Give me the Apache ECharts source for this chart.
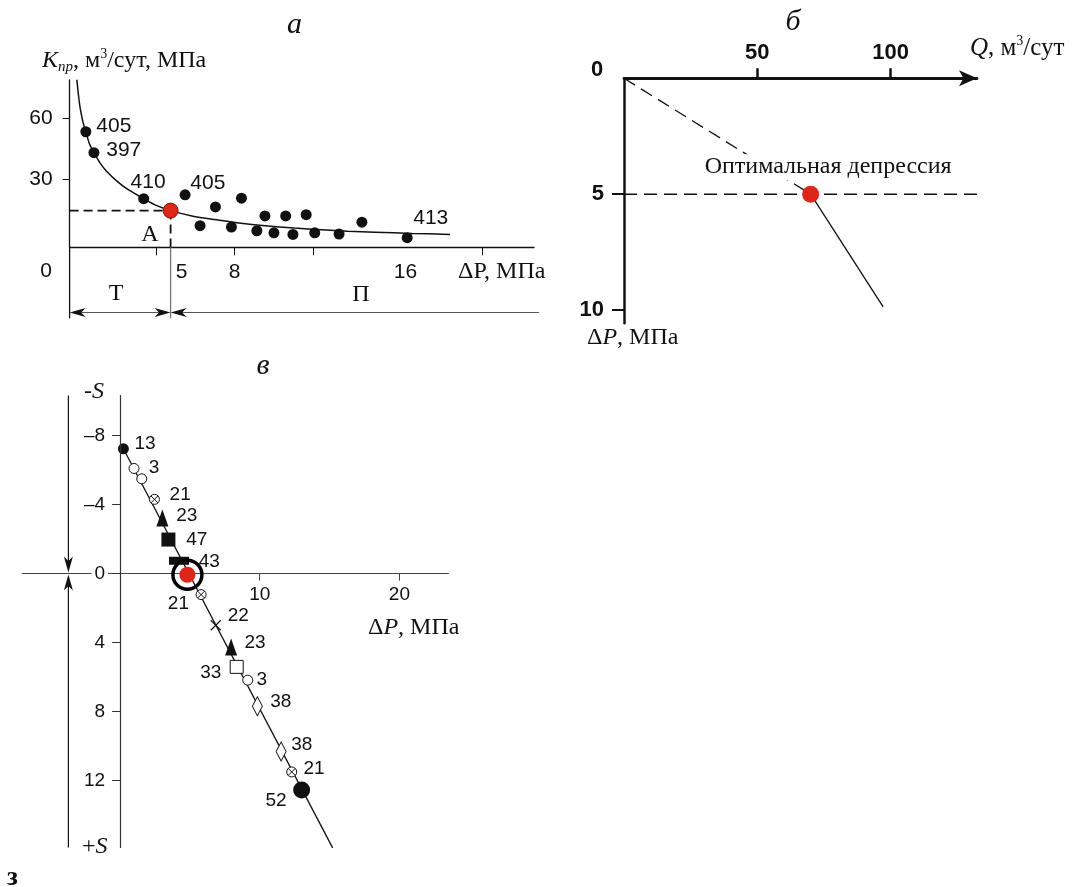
<!DOCTYPE html>
<html><head><meta charset="utf-8">
<script src="https://cdn.jsdelivr.net/npm/echarts@6/dist/echarts.min.js"></script>
<style>html,body{margin:0;padding:0;background:#fff}#c{width:1078px;height:887px}</style>
</head><body><div id="c"></div>
<script>
// ---------- Panel а : K_пр vs ΔP ----------
const aCurveX = [0.61, 0.7, 0.78, 0.9, 1.03, 1.2, 1.41, 1.7, 2.0, 2.5, 3.0, 3.74, 4.3, 5.0, 6.0, 7.05, 8.3, 9.56, 10.8, 12.07, 13.3, 14.58, 16.3, 18.09];
const aCurveY = [79.0, 70.0, 64.1, 58.0, 53.4, 47.5, 43.1, 38.0, 34.0, 29.0, 25.0, 20.5, 17.3, 14.6, 12.0, 10.2, 8.4, 7.0, 6.0, 5.2, 4.5, 4.0, 3.4, 2.9];
const aPointX = [1.03, 1.41, 3.74, 5.68, 6.38, 7.1, 7.85, 8.32, 9.04, 9.42, 9.84, 10.39, 10.73, 11.35, 11.75, 12.89, 13.96, 16.08];
const aPointY = [53.4, 43.1, 20.5, 22.4, 7.2, 16.4, 6.5, 20.7, 4.7, 12.0, 3.7, 12.0, 2.9, 12.6, 3.7, 3.1, 8.9, 1.3];
const aPointLabel = ['405', '397', '410', '405', '', '', '', '', '', '', '', '', '', '', '', '', '', '413'];
const aOptimum = [5.0, 14.6];
const aXTicks = [4.34, 8, 11.7, 19.6];
const aXLabels = [5, 8, 16];
const aYLabels = [30, 60];

// ---------- Panel б : ΔP vs Q ----------
const bDashed = [[0, 0], [70, 5]];
const bSolid = [[70, 5], [97.2, 9.86]];
const bOptimum = [70, 5];
const bLevel = 5;
const bXLabels = [50, 100];
const bYLabels = [5, 10];

// ---------- Panel в : S vs ΔP ----------
const vX = [0.24, 1.0, 1.55, 2.46, 3.03, 3.46, 4.22, 5.80, 6.85, 7.95, 8.35, 9.14, 9.83, 11.53, 12.29, 13.0];
const vY = [-7.23, -6.09, -5.49, -4.30, -3.22, -1.97, -0.74, 1.22, 3.0, 4.26, 5.41, 6.18, 7.69, 10.32, 11.5, 12.55];
const vKind = ['dot', 'open', 'open', 'otimes', 'tri', 'sq', 'bar', 'otimes', 'cross', 'tri', 'osq', 'open', 'diam', 'diam', 'otimes', 'bigdot'];
const vLabel = ['13', '3', '', '21', '23', '47', '43', '21', '22', '23', '33', '3', '38', '38', '21', '52'];
const vOptimum = [4.82, 0.07];
const vLineX = [0.24, 15.22];
const vLineY = [-7.23, 15.9];
const vXLabels = [10, 20];
const vYLabels = [-8, -4, 0, 4, 8, 12];

// ---------- layout / style (not data) ----------
const ink = '#111111';
const red = '#dd2519';
const serif = '"Liberation Serif", "Times New Roman", serif';
const sans = '"Liberation Sans", Arial, sans-serif';
const aLabelOffset = {0: [28, -5.7], 1: [29.8, -2.7], 2: [4.4, -16], 3: [22.7, -12], 17: [23.6, -19.4]};
const vLabelOffset = [[21.7, -4.8], [20, -1.1], null, [25.7, -4.2], [24.4, -1.8], [28.4, 0], [30.3, 0.7], [-22.7, 9.4], [22.6, -9.7], [24, -4.1], [-26, 6.3], [14, 0], [23.4, -4.2], [20.7, -7], [22.3, -2.8], [-25.7, 11]];
const OTIMES = 'path://M10,0A10,10,0,1,1,9.99,0ZM2.93,2.93L17.07,17.07M17.07,2.93L2.93,17.07';
const CROSS = 'path://M0,0L10,10M10,0L0,10';
const solid = c => ({color: c, opacity: 1});
const hollow = w => ({color: '#fff', borderColor: ink, borderWidth: w, opacity: 1});
const kindStyle = {
  dot: {symbol: 'circle', symbolSize: 11, itemStyle: solid(ink)},
  bigdot: {symbol: 'circle', symbolSize: 17, itemStyle: solid(ink)},
  open: {symbol: 'circle', symbolSize: 10, itemStyle: hollow(1)},
  otimes: {symbol: OTIMES, symbolSize: 10, itemStyle: hollow(1)},
  tri: {symbol: 'triangle', symbolSize: [12, 17], itemStyle: solid(ink)},
  sq: {symbol: 'rect', symbolSize: 14, itemStyle: solid(ink)},
  bar: {symbol: 'rect', symbolSize: [20, 8], itemStyle: solid(ink)},
  cross: {symbol: CROSS, symbolSize: 10, itemStyle: {color: 'rgba(0,0,0,0)', borderColor: ink, borderWidth: 1.2, opacity: 1}},
  osq: {symbol: 'rect', symbolSize: 13, itemStyle: hollow(1)},
  diam: {symbol: 'diamond', symbolSize: [10, 19], itemStyle: hollow(1)}
};

const aCurve = aCurveX.map((x, i) => [x, aCurveY[i]]);
const aPoints = aPointX.map((x, i) => {
  const item = {value: [x, aPointY[i]], name: aPointLabel[i]};
  if (aPointLabel[i]) {
    item.label = {show: true, position: 'inside', offset: aLabelOffset[i], formatter: '{b}', fontFamily: sans, fontSize: 21, color: ink};
  }
  return item;
});
const vPoints = vX.map((x, i) => {
  const k = kindStyle[vKind[i]];
  const item = {value: [x, vY[i]], name: vLabel[i], symbol: k.symbol, symbolSize: k.symbolSize, itemStyle: k.itemStyle};
  if (vLabel[i]) {
    item.label = {show: true, position: 'inside', offset: vLabelOffset[i], formatter: '{b}', fontFamily: sans, fontSize: 19, color: ink};
  }
  return item;
});

// grid в geometry (pixels) and ranges
const gV = {left: 22.3, top: 395.5, width: 426, height: 452};
const vXMin = -7, vXMax = 23.5, vYMin = -10.32, vYMax = 15.88;
// bottom x-axis moved up to S = 0 (negative offset = upward)
const vXOff = gV.height * (0 - vYMin) / (vYMax - vYMin) - gV.height;
// left y-axis moved right to ΔP = 0 (negative offset = rightward)
const vYOff = -(gV.width * (0 - vXMin) / (vXMax - vXMin));

const option = {
  animation: false,
  backgroundColor: '#fff',
  grid: [
    {left: 69.6, top: 80, width: 464.4, height: 167.3, outerBoundsMode: 'none', containLabel: false},
    {left: 624, top: 78.3, width: 353, height: 245, outerBoundsMode: 'none', containLabel: false},
    Object.assign({outerBoundsMode: 'none', containLabel: false}, gV)
  ],
  xAxis: [
    {gridIndex: 0, type: 'value', min: 0.27, max: 22.02,
      axisLine: {show: true, onZero: false, lineStyle: {color: ink, width: 1.3}},
      axisTick: {show: true, customValues: aXTicks, length: 8, lineStyle: {color: ink, width: 1}},
      axisLabel: {show: true, customValues: aXLabels, margin: 14, fontFamily: sans, fontSize: 21, color: ink,
        formatter: v => (v === 5 ? '{s|5}' : String(v)),
        rich: {s: {padding: [0, 0, 0, 22], fontFamily: sans, fontSize: 21, color: ink}}},
      splitLine: {show: false}},
    {gridIndex: 1, type: 'value', position: 'top', min: 0, max: 132.4,
      axisLine: {show: true, onZero: false, symbol: ['none', 'arrow'], symbolSize: [12, 18], lineStyle: {color: ink, width: 2.8}},
      axisTick: {show: true, customValues: bXLabels, length: 10, lineStyle: {color: ink, width: 2.5}},
      axisLabel: {show: true, customValues: bXLabels, margin: 14, fontFamily: sans, fontWeight: 'bold', fontSize: 22, color: ink},
      splitLine: {show: false}},
    {gridIndex: 2, type: 'value', min: vXMin, max: vXMax, position: 'bottom', offset: vXOff,
      axisLine: {show: true, onZero: false, lineStyle: {color: '#444', width: 1.2}},
      axisTick: {show: true, customValues: vXLabels, length: 7, lineStyle: {color: '#444', width: 1}},
      axisLabel: {show: true, customValues: vXLabels, margin: 12, fontFamily: sans, fontSize: 19, color: ink},
      splitLine: {show: false}}
  ],
  yAxis: [
    {gridIndex: 0, type: 'value', min: -3.44, max: 78.85,
      axisLine: {show: true, onZero: false, lineStyle: {color: ink, width: 1.3}},
      axisTick: {show: true, customValues: aYLabels, length: 7, lineStyle: {color: ink, width: 1}},
      axisLabel: {show: true, customValues: aYLabels, margin: 17, fontFamily: sans, fontSize: 21, color: ink},
      splitLine: {show: false}},
    {gridIndex: 1, type: 'value', inverse: true, min: 0, max: 10.57,
      axisLine: {show: true, onZero: false, lineStyle: {color: ink, width: 2.5}},
      axisTick: {show: true, customValues: bYLabels, length: 12, lineStyle: {color: ink, width: 2}},
      axisLabel: {show: true, customValues: bYLabels, margin: 20, fontFamily: sans, fontWeight: 'bold', fontSize: 22, color: ink},
      splitLine: {show: false}},
    {gridIndex: 2, type: 'value', inverse: true, min: vYMin, max: vYMax, position: 'left', offset: vYOff, z: 4,
      axisLine: {show: true, onZero: false, lineStyle: {color: '#333', width: 1.2}},
      axisTick: {show: true, customValues: vYLabels, length: 8, lineStyle: {color: '#333', width: 1}},
      axisLabel: {show: true, customValues: vYLabels, margin: 12, fontFamily: sans, fontSize: 19, color: ink,
        backgroundColor: '#fff', padding: [1, 3],
        formatter: v => (v < 0 ? '\u2013' + Math.abs(v) : String(v))},
      splitLine: {show: false}}
  ],
  series: [
    // ---- а ----
    {type: 'line', xAxisIndex: 0, yAxisIndex: 0, data: aCurve, smooth: 0.3, showSymbol: false, symbol: 'none',
      lineStyle: {color: ink, width: 1.5}, z: 2},
    {type: 'line', xAxisIndex: 0, yAxisIndex: 0, data: [[0.27, aOptimum[1]], aOptimum], symbol: 'none',
      lineStyle: {color: ink, width: 1.8, type: [9, 5]}, z: 2},
    {type: 'line', xAxisIndex: 0, yAxisIndex: 0, data: [aOptimum, [aOptimum[0], -3.44]], symbol: 'none',
      lineStyle: {color: ink, width: 1.8, type: [9, 5]}, z: 2},
    {type: 'scatter', xAxisIndex: 0, yAxisIndex: 0, data: aPoints, symbol: 'circle', symbolSize: 11,
      itemStyle: solid(ink), z: 3},
    {type: 'scatter', xAxisIndex: 0, yAxisIndex: 0, data: [aOptimum], symbol: 'circle', symbolSize: 15,
      itemStyle: {color: red, borderColor: '#7a1510', borderWidth: 1, opacity: 1}, z: 4},
    // ---- б ----
    {type: 'line', xAxisIndex: 1, yAxisIndex: 1, data: [[0, bLevel], [132.7, bLevel]], symbol: 'none',
      lineStyle: {color: ink, width: 1.4, type: [13, 7]}, z: 2},
    {type: 'line', xAxisIndex: 1, yAxisIndex: 1, data: bDashed, symbol: 'none',
      lineStyle: {color: ink, width: 1.3, type: [13, 7]}, z: 2},
    {type: 'line', xAxisIndex: 1, yAxisIndex: 1, data: bSolid, symbol: 'none',
      lineStyle: {color: ink, width: 1.3}, z: 2},
    {type: 'scatter', xAxisIndex: 1, yAxisIndex: 1, data: [bOptimum], symbol: 'circle', symbolSize: 17,
      itemStyle: solid(red), z: 5,
      label: {show: true, position: 'inside', offset: [17.5, -27], formatter: 'Оптимальная депрессия',
        fontFamily: serif, fontSize: 24, color: ink, backgroundColor: '#fff', padding: [1, 3]}},
    // ---- в ----
    {type: 'line', xAxisIndex: 2, yAxisIndex: 2, data: vLineX.map((x, i) => [x, vLineY[i]]), symbol: 'none',
      lineStyle: {color: ink, width: 1.3}, z: 2},
    {type: 'scatter', xAxisIndex: 2, yAxisIndex: 2, data: vPoints, z: 3},
    {type: 'scatter', xAxisIndex: 2, yAxisIndex: 2, data: [vOptimum], symbol: 'circle', symbolSize: 16,
      itemStyle: solid(red), z: 4},
    {type: 'scatter', xAxisIndex: 2, yAxisIndex: 2, data: [vOptimum], symbol: 'circle', symbolSize: 29,
      itemStyle: {color: 'rgba(0,0,0,0)', borderColor: '#000', borderWidth: 3.5, opacity: 1}, z: 5}
  ]
};

const chart = echarts.init(document.getElementById('c'), null, {renderer: 'canvas'});
chart.setOption(option);

// ---------- decorations computed through the axes ----------
const pa = (x, y) => chart.convertToPixel({gridIndex: 0}, [x, y]);
const pv = (x, y) => chart.convertToPixel({gridIndex: 2}, [x, y]);

function txt(x, y, text, font, align) {
  return {type: 'text', silent: true, z: 20,
    style: {x: x, y: y, text: text, font: font, fill: ink,
      align: align || 'center', textAlign: align || 'center', verticalAlign: 'middle', textVerticalAlign: 'middle'}};
}
function richTxt(x, y, text, rich, align) {
  return {type: 'text', silent: true, z: 20,
    style: {x: x, y: y, text: text, rich: rich, fill: ink,
      align: align || 'left', textAlign: align || 'left', verticalAlign: 'middle', textVerticalAlign: 'middle'}};
}
function seg(x1, y1, x2, y2, color, w) {
  return {type: 'line', silent: true, z: 10, shape: {x1: x1, y1: y1, x2: x2, y2: y2}, style: {stroke: color, lineWidth: w}};
}
function head(tx, ty, dx, dy, color, len, hw) {
  len = len || 16; hw = hw || 4.5;
  const bx = tx - dx * len, by = ty - dy * len, px = -dy, py = dx;
  const nx = tx - dx * len * 0.72, ny = ty - dy * len * 0.72;
  return {type: 'polygon', silent: true, z: 11,
    shape: {points: [[tx, ty], [bx + px * hw, by + py * hw], [nx, ny], [bx - px * hw, by - py * hw]]},
    style: {fill: color}};
}

const nameRich = {
  k: {fontFamily: serif, fontStyle: 'italic', fontSize: 24, lineHeight: 28, verticalAlign: 'middle'},
  s: {fontFamily: serif, fontStyle: 'italic', fontSize: 15, lineHeight: 15, verticalAlign: 'bottom'},
  n: {fontFamily: serif, fontSize: 24, lineHeight: 28, verticalAlign: 'middle'},
  p: {fontFamily: serif, fontSize: 14, lineHeight: 14, verticalAlign: 'top'},
  ip: {fontFamily: serif, fontStyle: 'italic', fontSize: 24, lineHeight: 28, verticalAlign: 'middle'},
  N: {fontFamily: serif, fontSize: 25, lineHeight: 28, verticalAlign: 'middle'},
  IP: {fontFamily: serif, fontStyle: 'italic', fontSize: 25, lineHeight: 28, verticalAlign: 'middle'}
};

const g = [];
// panel а extras
const [aox, aoy] = pa(0.27, -3.44);
const [ax5] = pa(aOptimum[0], 0);
const [axEnd] = pa(22.26, 0);
const rowY = aoy + 65.2, lowY = aoy + 71;
g.push(seg(aox, aoy, aox, lowY, ink, 1.3));
g.push(seg(ax5, aoy, ax5, lowY, '#777', 1.3));
g.push(seg(aox + 4, rowY, ax5 - 4, rowY, '#555', 1.2));
g.push(head(aox, rowY, -1, 0, ink));
g.push(head(ax5, rowY, 1, 0, ink));
g.push(seg(ax5 + 4, rowY, axEnd, rowY, '#555', 1.2));
g.push(head(ax5, rowY, -1, 0, ink));
g.push(txt(294.6, 25, 'а', 'italic 30px ' + serif));
g.push(richTxt(42, 61, '{k|K}{s|пр}{n|, м}{p|3}{n|/сут, МПа}', nameRich));
g.push(txt(46, 271.7, '0', '21px ' + sans));
g.push(txt(458, 272, 'ΔP, МПа', '24px ' + serif, 'left'));
g.push(txt(150, 235, 'А', '24px ' + serif));
g.push(txt(116, 294, 'Т', '24px ' + serif));
g.push(txt(361, 295, 'П', '24px ' + serif));
// panel б extras
g.push(txt(793, 22, 'б', 'italic 30px ' + serif));
g.push(txt(597, 70, '0', 'bold 22px ' + sans));
g.push(richTxt(970, 48, '{IP|Q}{N|, м}{p|3}{N|/сут}', nameRich));
g.push(richTxt(587, 338, '{n|Δ}{ip|P}{n|, МПа}', nameRich));
// panel в extras
const [vax, vTop] = pv(-3.7, vYMin);
const [, vZero] = pv(-3.7, 0);
const [, vBot] = pv(-3.7, vYMax);
g.push(seg(vax, vTop, vax, vZero - 10, ink, 1.2));
g.push(head(vax, vZero - 1, 0, 1, ink));
g.push(seg(vax, vBot, vax, vZero + 10, ink, 1.2));
g.push(head(vax, vZero + 1, 0, -1, ink));
g.push(txt(263, 366, 'в', 'italic 30px ' + serif));
g.push(richTxt(84, 392, '{n|-}{ip|S}', nameRich));
g.push(richTxt(82, 847, '{n|+}{ip|S}', nameRich));
g.push(richTxt(368, 628, '{n|Δ}{ip|P}{n|, МПа}', nameRich));
g.push(txt(7, 878, 'з', 'bold 27px ' + serif, 'left'));

chart.setOption({graphic: g});
</script>
</body></html>
